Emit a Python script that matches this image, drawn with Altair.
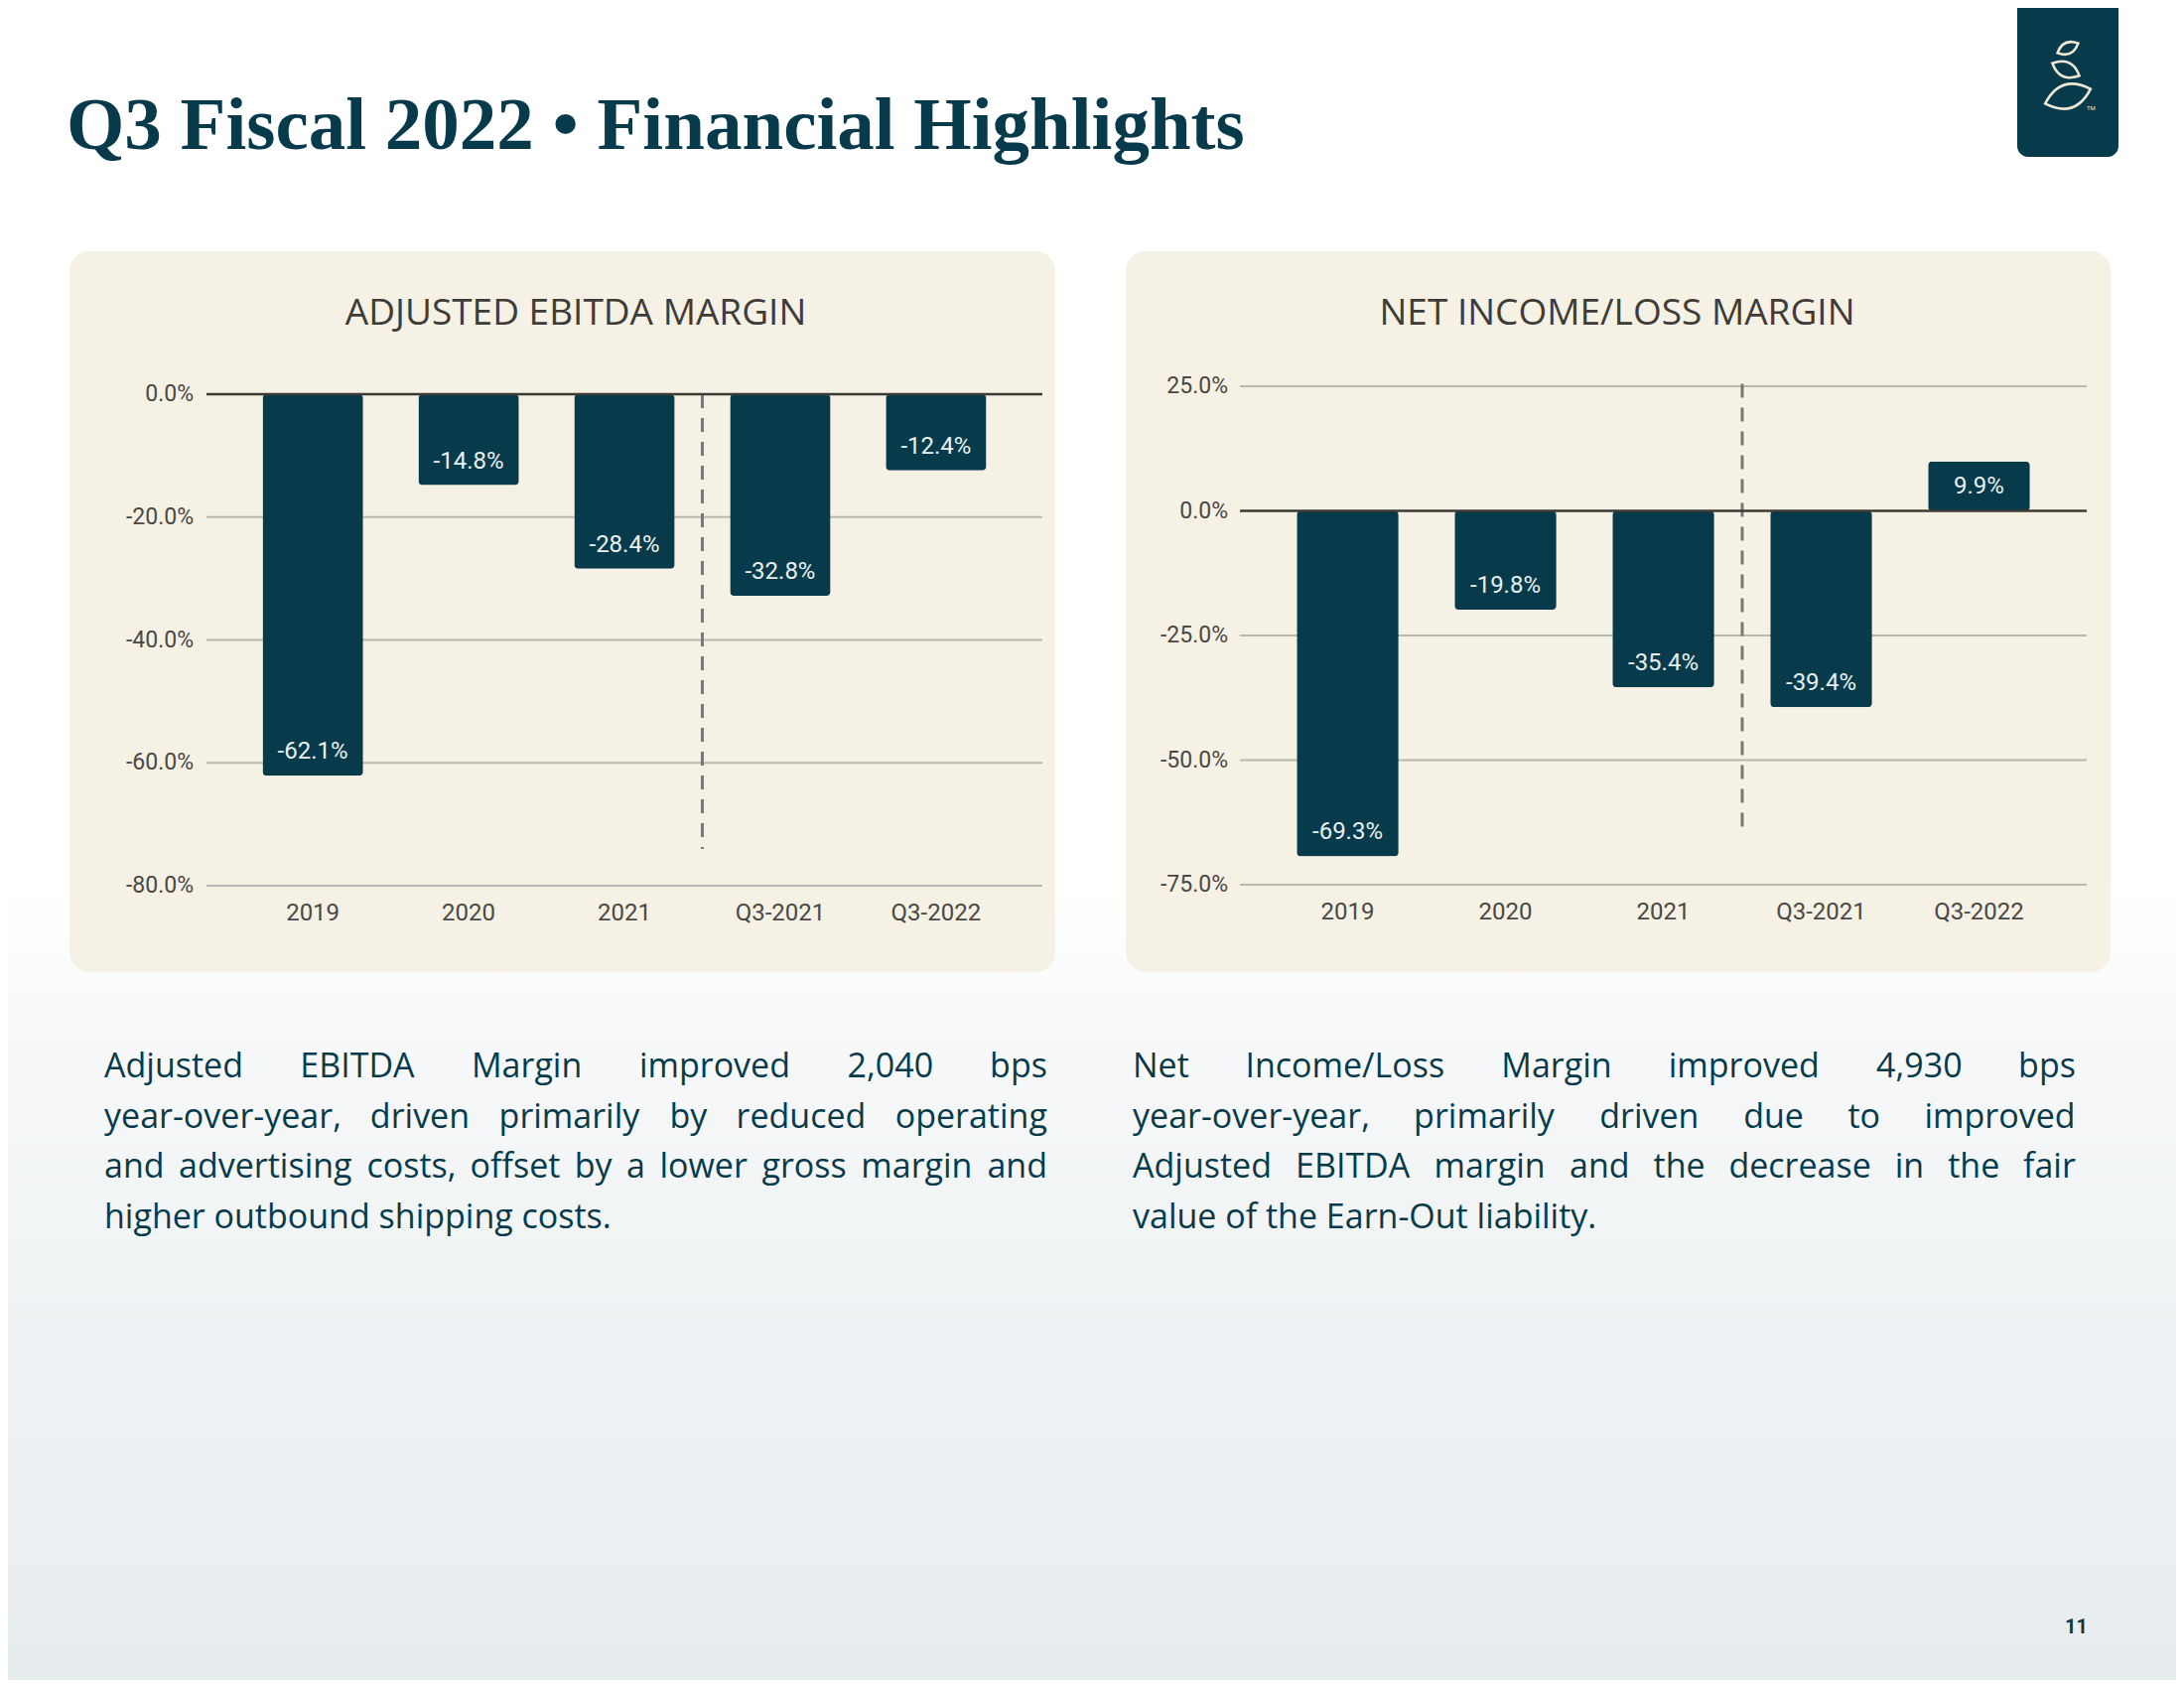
import altair as alt
import pandas as pd

# ---------------- data ----------------
categories = ["2019", "2020", "2021", "Q3-2021", "Q3-2022"]
ebitda_margin = [-62.1, -14.8, -28.4, -32.8, -12.4]
net_margin = [-69.3, -19.8, -35.4, -39.4, 9.9]
ebitda_ticks = [0, -20, -40, -60, -80]
net_ticks = [25, 0, -25, -50, -75]
ebitda_divider = [0, -74]
net_divider = [25.5, -64.5]
divider_after = "2021"

title_text = "Q3 Fiscal 2022 \u2022 Financial Highlights"
left_title = "ADJUSTED EBITDA MARGIN"
right_title = "NET INCOME/LOSS MARGIN"
left_para = [
    "Adjusted EBITDA Margin improved 2,040 bps",
    "year-over-year, driven primarily by reduced operating",
    "and advertising costs, offset by a lower gross margin and",
    "higher outbound shipping costs.",
]
right_para = [
    "Net Income/Loss Margin improved 4,930 bps",
    "year-over-year, primarily driven due to improved",
    "Adjusted EBITDA margin and the decrease in the fair",
    "value of the Earn-Out liability.",
]
page_number = "11"

# ---------------- style ----------------
NAVY = "#073b4c"
CREAM = "#f5f1e4"
GRID = "#bab7ae"
ZERO = "#3d3a35"
DASH = "#7a7876"
AXIS_TXT = "#4a4845"
PANEL_TXT = "#3f3c38"
W, H = 2184, 1684
P_IN, P_OUT = 0.355, 0.36

one = pd.DataFrame({"a": [0]})


def deco_rect(x0, x1, y0, y1, **kw):
    return alt.Chart(one).mark_rect(**kw).encode(
        x=alt.value(x0), x2=alt.value(x1), y=alt.value(y0), y2=alt.value(y1)
    )


def deco_text(txt, x, y, **kw):
    return alt.Chart(one).mark_text(text=txt, **kw).encode(x=alt.value(x), y=alt.value(y))


background = deco_rect(
    0, W, 0, H,
    color={
        "gradient": "linear",
        "x1": 0, "x2": 0, "y1": 0, "y2": 1,
        "stops": [
            {"offset": 0, "color": "#ffffff"},
            {"offset": 0.52, "color": "#ffffff"},
            {"offset": 0.66, "color": "#f4f6f7"},
            {"offset": 1, "color": "#e7ecee"},
        ],
    },
)

panel_l = deco_rect(62, 1055, 245, 971, color=CREAM, cornerRadius=20)
panel_r = deco_rect(1126, 2118, 245, 971, color=CREAM, cornerRadius=20)
logo_box = deco_rect(2024, 2126, 0, 150, color=NAVY,
                     cornerRadiusBottomLeft=11, cornerRadiusBottomRight=11)

LEAF = "M -1 0 Q 0 -1 1 0 Q 0 1 -1 0 Z"
leaves = pd.DataFrame({
    "px": [2075, 2073, 2075],
    "py": [40.5, 62, 89],
    "sz": [529, 900, 2304],
    "ang": [335, 25, 342],
})
logo_leaves = alt.Chart(leaves).mark_point(
    shape=LEAF, filled=False, stroke="#efe8d4", strokeWidth=2.6, opacity=1
).encode(
    x=alt.X("px:Q", scale=None, axis=None),
    y=alt.Y("py:Q", scale=None, axis=None),
    size=alt.Size("sz:Q", scale=None, legend=None),
    angle=alt.Angle("ang:Q", scale=None, legend=None),
)
logo_tm = deco_text("TM", 2094, 101, fontSize=6, color="#efe8d4", font="Roboto", align="left")

main_title = deco_text(title_text, 59, 142, font="Liberation Serif", fontWeight="bold",
                       fontSize=75, color=NAVY, align="left", baseline="alphabetic")
title_l = deco_text(left_title, 572, 319, font="Open Sans", fontSize=37, color=PANEL_TXT,
                    align="center", baseline="alphabetic")
title_r = deco_text(right_title, 1621, 319, font="Open Sans", fontSize=37, color=PANEL_TXT,
                    align="center", baseline="alphabetic")
page_no = deco_text(page_number, 2095, 1631, font="Roboto", fontWeight="bold", fontSize=20,
                    color=NAVY, align="right", baseline="middle")


def panel(vals, ticks, dom, xrange, yrange, div, ylab_x, xlab_y):
    bars_df = pd.DataFrame({"c": categories, "v": vals,
                            "lbl": [f"{v:.1f}%" for v in vals]})
    tick_df = pd.DataFrame({"v": ticks, "lbl": [f"{t:.1f}%" for t in ticks]})
    div_df = pd.DataFrame({"c": [divider_after], "v": [div[0]], "v2": [div[1]]})

    xs = alt.Scale(domain=categories, range=xrange, paddingInner=P_IN, paddingOuter=P_OUT)
    ys = alt.Scale(domain=dom, range=yrange, nice=False, zero=False)
    X = alt.X("c:N", scale=xs, axis=None, sort=categories)
    Y = alt.Y("v:Q", scale=ys, axis=None)

    step = (xrange[1] - xrange[0]) / (len(categories) - P_IN + 2 * P_OUT)
    half_gap = step * P_IN / 2

    grid = alt.Chart(tick_df).transform_filter("datum.v != 0").mark_rule(
        color=GRID, strokeWidth=2.2
    ).encode(y=Y, x=alt.value(xrange[0]), x2=alt.value(xrange[1]))

    zero = alt.Chart(tick_df).transform_filter("datum.v == 0").mark_rule(
        color=ZERO, strokeWidth=2.5
    ).encode(y=Y, x=alt.value(xrange[0]), x2=alt.value(xrange[1]))

    ylabels = alt.Chart(tick_df).mark_text(
        align="right", baseline="middle", font="Roboto", fontSize=23, color=AXIS_TXT
    ).encode(y=Y, x=alt.value(ylab_x), text="lbl:N")

    xlabels = alt.Chart(bars_df).mark_text(
        align="center", baseline="middle", font="Roboto", fontSize=24, color=AXIS_TXT
    ).encode(x=X, y=alt.value(xlab_y), text="c:N")

    bars = alt.Chart(bars_df).mark_bar(color=NAVY, cornerRadius=4).encode(x=X, y=Y)

    lab_neg = alt.Chart(bars_df).transform_filter("datum.v < 0").mark_text(
        baseline="middle", align="center", dy=-24, font="Roboto", fontSize=24, color="#e9f0f1"
    ).encode(x=X, y=Y, text="lbl:N")
    lab_pos = alt.Chart(bars_df).transform_filter("datum.v >= 0").mark_text(
        baseline="middle", align="center", dy=25, font="Roboto", fontSize=24, color="#e9f0f1"
    ).encode(x=X, y=Y, text="lbl:N")

    divider = alt.Chart(div_df).mark_rule(
        color=DASH, strokeWidth=3, strokeDash=[14, 10], xOffset=half_gap
    ).encode(
        x=alt.X("c:N", scale=xs, axis=None, bandPosition=1),
        y=Y, y2="v2:Q",
    )

    return alt.layer(grid, divider, bars, zero, lab_neg, lab_pos, ylabels, xlabels)


left_chart = panel(ebitda_margin, ebitda_ticks, [-80, 0], [200, 1042], [884, 389],
                   ebitda_divider, 187, 912)
right_chart = panel(net_margin, net_ticks, [-75, 25], [1241, 2094], [883, 381],
                    net_divider, 1229, 911)

# ------------- paragraph layout (justified lines) -------------
CW = {' ': 0.26, 'a': 0.556, 'b': 0.613, 'c': 0.48, 'd': 0.613, 'e': 0.561, 'f': 0.336,
      'g': 0.546, 'h': 0.613, 'i': 0.258, 'j': 0.258, 'k': 0.515, 'l': 0.258, 'm': 0.932,
      'n': 0.613, 'o': 0.601, 'p': 0.613, 'q': 0.613, 'r': 0.408, 's': 0.477, 't': 0.353,
      'u': 0.613, 'v': 0.501, 'w': 0.778, 'x': 0.524, 'y': 0.501, 'z': 0.463,
      'A': 0.633, 'B': 0.647, 'C': 0.631, 'D': 0.73, 'E': 0.557, 'F': 0.516, 'G': 0.725,
      'H': 0.739, 'I': 0.279, 'J': 0.266, 'K': 0.614, 'L': 0.523, 'M': 0.903, 'N': 0.754,
      'O': 0.779, 'P': 0.603, 'Q': 0.779, 'R': 0.62, 'S': 0.549, 'T': 0.553, 'U': 0.733,
      'V': 0.593, 'W': 0.929, 'X': 0.576, 'Y': 0.556, 'Z': 0.572, ',': 0.25, '.': 0.266,
      '-': 0.322, '/': 0.372}
FS = 34


def wwidth(word):
    return sum(CW.get(ch, 0.572) for ch in word) * FS


def layout(lines, x0, x1, y0, lh, n_just):
    rows = []
    for i, line in enumerate(lines):
        y = y0 + i * lh
        words = line.split()
        if i < n_just and len(words) > 1:
            ws = [wwidth(w) for w in words]
            gap = (x1 - x0 - sum(ws)) / (len(words) - 1)
            x = x0
            for w, wd in zip(words, ws):
                rows.append({"w": w, "px": x, "py": y})
                x += wd + gap
        else:
            rows.append({"w": line, "px": x0, "py": y})
    return rows


para_rows = layout(left_para, 97, 1047, 1077, 50.5, 3) + layout(right_para, 1133, 2083, 1077, 50.5, 3)
paragraphs = alt.Chart(pd.DataFrame(para_rows)).mark_text(
    align="left", baseline="alphabetic", font="Open Sans", fontSize=FS, color=NAVY
).encode(
    x=alt.X("px:Q", scale=None, axis=None),
    y=alt.Y("py:Q", scale=None, axis=None),
    text="w:N",
)

chart = alt.layer(
    background, panel_l, panel_r, logo_box, logo_leaves, logo_tm,
    main_title, title_l, title_r, left_chart, right_chart, paragraphs, page_no,
).resolve_scale(
    x="independent", y="independent", size="independent", angle="independent"
).properties(
    width=W, height=H, padding=0, autosize="none", background="#ffffff"
).configure_view(strokeWidth=0)

chart.save("out.html", embed_options={"renderer": "svg", "actions": False})
